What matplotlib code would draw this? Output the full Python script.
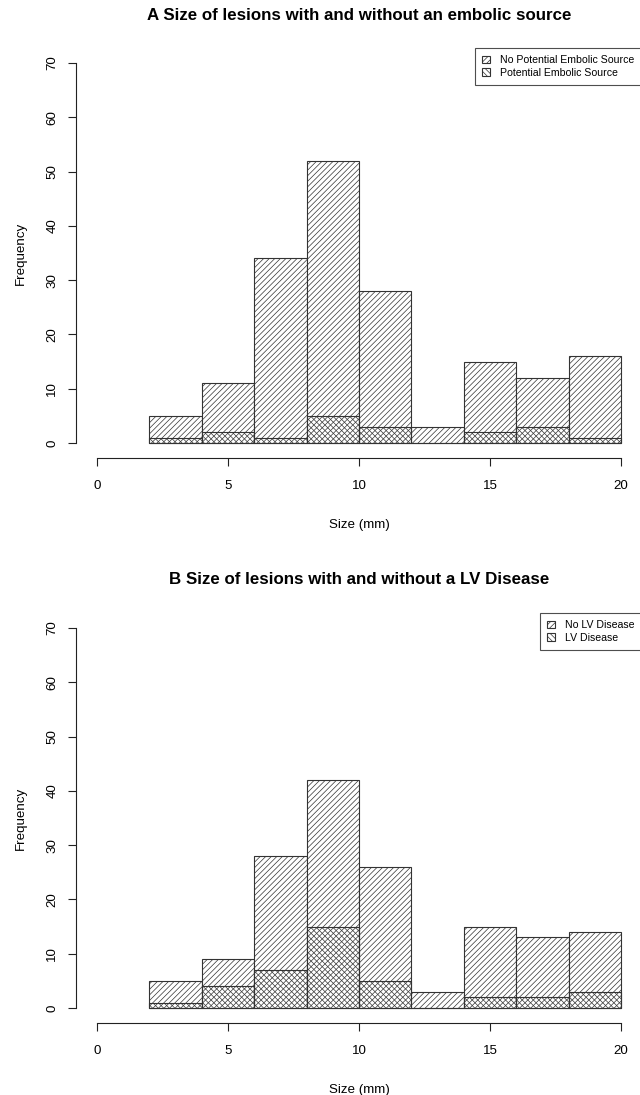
import numpy as np
import matplotlib
matplotlib.use("Agg")
import matplotlib.pyplot as plt

plt.rcParams['font.family'] = ['Liberation Sans', 'DejaVu Sans']
plt.rcParams['hatch.linewidth'] = 0.5

# histogram bins (mm) and counts
bin_edges = [2, 4, 6, 8, 10, 12, 14, 16, 18, 20]
total_a = [5, 11, 34, 52, 28, 3, 15, 12, 16]
embolic_a = [1, 2, 1, 5, 3, 0, 2, 3, 1]
total_b = [5, 9, 28, 42, 26, 3, 15, 13, 14]
lv_b = [1, 4, 7, 15, 5, 0, 2, 2, 3]

panels = [
    ("A Size of lesions with and without an embolic source", total_a, embolic_a,
     "No Potential Embolic Source", "Potential Embolic Source"),
    ("B Size of lesions with and without a LV Disease", total_b, lv_b,
     "No LV Disease", "LV Disease"),
]

W, H = 640, 1095
fig = plt.figure(figsize=(W / 100, H / 100), dpi=100)

edge = '#333333'
lefts = np.array(bin_edges[:-1])
widths = np.diff(bin_edges)

for i, (title, total, sub, lab1, lab2) in enumerate(panels):
    off = i * 565
    top_px, bot_px = 47.8 + off, 458.2 + off
    ax = fig.add_axes([76 / W, (H - bot_px) / H, 566 / W, (bot_px - top_px) / H])
    ax.set_xlim(-0.8, 20.8)
    ax.set_ylim(-2.8, 72.8)

    b1 = ax.bar(lefts, total, width=widths, align='edge', facecolor='white',
                edgecolor=edge, linewidth=0.8, hatch='//////', label=lab1)
    b2 = ax.bar(lefts, sub, width=widths, align='edge', facecolor='none',
                edgecolor=edge, linewidth=0.8, hatch='\\\\\\\\\\\\', label=lab2)

    for s in ['top', 'right']:
        ax.spines[s].set_visible(False)
    ax.spines['left'].set_bounds(0, 70)
    ax.spines['bottom'].set_bounds(0, 20)
    for s in ['left', 'bottom']:
        ax.spines[s].set_color('#222222')
        ax.spines[s].set_linewidth(0.8)

    ax.set_xticks([0, 5, 10, 15, 20])
    ax.set_yticks(np.arange(0, 71, 10))
    ax.tick_params(axis='both', direction='out', length=5.8, width=0.8,
                   color='#222222', labelsize=9.6)
    ax.tick_params(axis='x', pad=10)
    ax.tick_params(axis='y', pad=7)
    for t in ax.get_yticklabels():
        t.set_rotation(90)
        t.set_va('center')

    ax.set_xlabel("Size (mm)", fontsize=9.6, labelpad=19.5)
    ax.set_ylabel("Frequency", fontsize=9.6, labelpad=14)

    fig.text(359 / W, 1 - (15 + off) / H, title, ha='center', va='center',
             fontsize=12.2, fontweight='bold')

    leg = ax.legend(handles=[b1, b2], loc='upper right', bbox_to_anchor=(1, 1),
                    borderaxespad=0, fontsize=7.6, frameon=True, fancybox=False,
                    handlelength=0.7, handleheight=0.7, handletextpad=1.0,
                    labelspacing=0.25, borderpad=0.7)
    leg.get_frame().set_edgecolor('#222222')
    leg.get_frame().set_linewidth(0.8)

fig.savefig("out.png", dpi=100)
